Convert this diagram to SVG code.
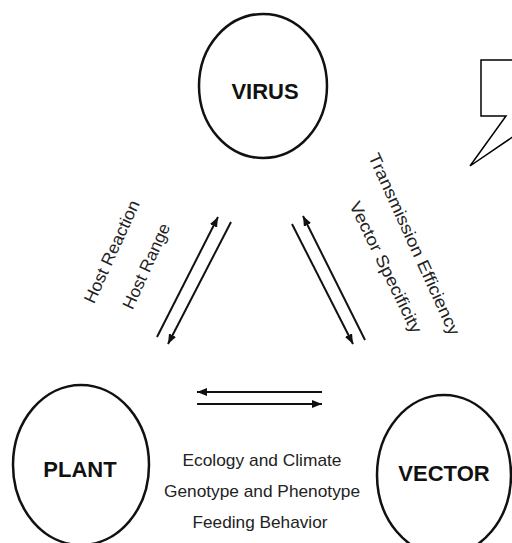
<svg xmlns="http://www.w3.org/2000/svg" width="512" height="543" viewBox="0 0 512 543">
<defs>
<style>
.node{fill:none;stroke:#111;stroke-width:2.5}
.lbl{font-family:"Liberation Sans",Arial,sans-serif;font-weight:bold;font-size:22px;fill:#111;text-anchor:middle}
.txt{font-family:"Liberation Sans",Arial,sans-serif;font-size:17px;fill:#222;text-anchor:middle}
.arr{stroke:#111;stroke-width:2;fill:none}
</style>
<marker id="ah" viewBox="0 0 10 8" refX="10" refY="4" markerWidth="10" markerHeight="8" markerUnits="userSpaceOnUse" orient="auto">
<path d="M0,0 L10,4 L0,8 Z" fill="#111"/>
</marker>
</defs>
<rect width="512" height="543" fill="#fff"/>
<g id="callout">
<path d="M514,60 H481 V116 H506 L470,166 L514,136" fill="#fff" stroke="#000" stroke-width="1.5"/>
</g>
<g id="virus">
<ellipse class="node" cx="263" cy="86" rx="64" ry="72"/>
<text class="lbl" x="265" y="99">VIRUS</text>
</g>
<g id="plant">
<ellipse class="node" cx="81" cy="465" rx="68" ry="80"/>
<text class="lbl" x="80" y="477">PLANT</text>
</g>
<g id="vector">
<ellipse class="node" cx="444" cy="475" rx="67" ry="80"/>
<text class="lbl" x="444" y="481">VECTOR</text>
</g>
<g id="connectors">
<line class="arr" x1="157" y1="337" x2="218" y2="217" marker-end="url(#ah)"/>
<line class="arr" x1="231" y1="222" x2="168" y2="344" marker-end="url(#ah)"/>
<line class="arr" x1="292" y1="224" x2="353" y2="344" marker-end="url(#ah)"/>
<line class="arr" x1="365" y1="340" x2="303" y2="216" marker-end="url(#ah)"/>
<line class="arr" x1="322" y1="392" x2="197" y2="392" marker-end="url(#ah)"/>
<line class="arr" x1="197" y1="404" x2="322" y2="404" marker-end="url(#ah)"/>
</g>
<g id="labels">
<text class="txt" transform="translate(111.5,251.5) rotate(-65.5)" x="0" y="6" textLength="111" lengthAdjust="spacingAndGlyphs">Host Reaction</text>
<text class="txt" transform="translate(147,266.5) rotate(-65.5)" x="0" y="5" textLength="92" lengthAdjust="spacingAndGlyphs">Host Range</text>
<text class="txt" transform="translate(413.5,244.5) rotate(65.5)" x="0" y="5" textLength="198" lengthAdjust="spacingAndGlyphs">Transmission Efficiency</text>
<text class="txt" transform="translate(385,267.5) rotate(64)" x="0" y="5" textLength="144" lengthAdjust="spacingAndGlyphs">Vector Specificity</text>
<text class="txt" x="262" y="466" textLength="159" lengthAdjust="spacingAndGlyphs">Ecology and Climate</text>
<text class="txt" x="262" y="497" textLength="196" lengthAdjust="spacingAndGlyphs">Genotype and Phenotype</text>
<text class="txt" x="260" y="528" textLength="135" lengthAdjust="spacingAndGlyphs">Feeding Behavior</text>
</g>
</svg>
